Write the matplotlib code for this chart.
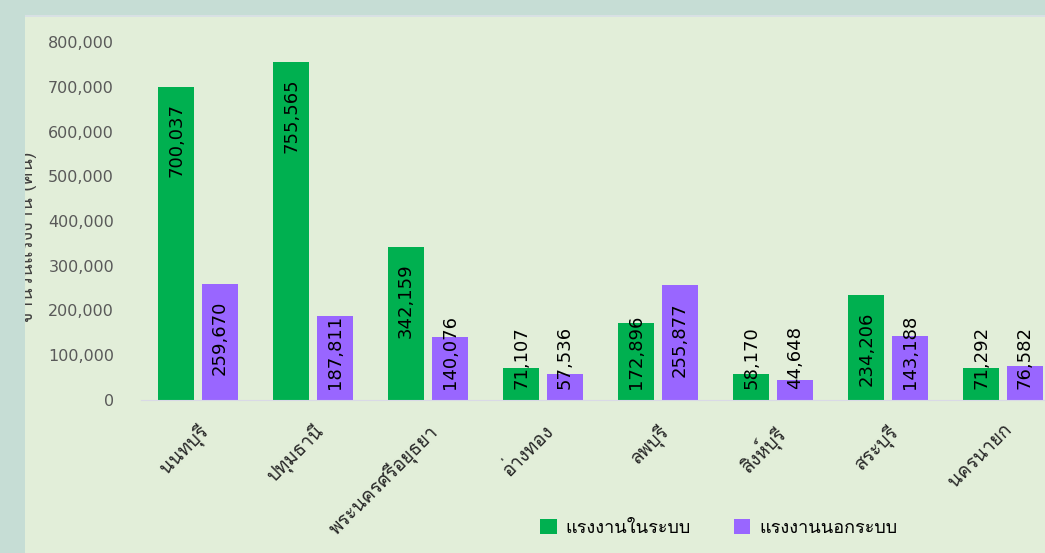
import matplotlib
matplotlib.use("Agg")
import matplotlib.pyplot as plt
from matplotlib import font_manager
from matplotlib.ft2font import FT2Font
from matplotlib.patches import Rectangle
import numpy as np

# ---------------- data ----------------
provinces = ["นนทบุรี", "ปทุมธานี", "พระนครศรีอยุธยา", "อ่างทอง",
             "ลพบุรี", "สิงห์บุรี", "สระบุรี", "นครนายก"]
formal = [700037, 755565, 342159, 71107, 172896, 58170, 234206, 71292]
informal = [259670, 187811, 140076, 57536, 255877, 44648, 143188, 76582]
series_names = ["แรงงานในระบบ", "แรงงานนอกระบบ"]
y_ticks = [0, 100000, 200000, 300000, 400000, 500000, 600000, 700000, 800000]
y_title = "จำนวนแรงงาน (คน)"

GREEN = "#00b050"
PURPLE = "#9966ff"
OUTER = "#c6ddd5"
PANEL = "#e2eed9"


# find a font that actually has Thai glyphs
def thai_font():
    for f in font_manager.fontManager.ttflist:
        try:
            if 0x0E01 in FT2Font(f.fname).get_charmap():
                return f.name
        except Exception:
            pass
    return "DejaVu Sans"


thai = thai_font()
plt.rcParams['font.family'] = [thai, "DejaVu Sans"]

fig = plt.figure(figsize=(10.45, 5.53), dpi=100)
fig.patch.set_facecolor(OUTER)
W, H = 1045, 553

# inner light-green panel
fig.patches.append(Rectangle((25 / W, 0), 1, 1 - 16 / H, transform=fig.transFigure,
                             facecolor=PANEL, edgecolor="none", zorder=-10))
fig.patches.append(Rectangle((25 / W, 1 - 17 / H), 1, 2 / H, transform=fig.transFigure,
                             facecolor="#d8e0e4", edgecolor="none", zorder=-9))

ax = fig.add_axes([140.5 / W, 153 / H, 920 / W, 358 / H])
ax.set_facecolor("none")

x = np.arange(len(provinces))
bw = 0.31
off = 0.19
b1 = ax.bar(x - off, formal, bw, color=GREEN, label=series_names[0])
b2 = ax.bar(x + off, informal, bw, color=PURPLE, label=series_names[1])

ax.set_xlim(-0.5, len(provinces) - 0.5)
ax.set_ylim(0, 800000)
ax.set_yticks(y_ticks)
ax.set_yticklabels([f"{v:,}" for v in y_ticks], color="#595959", fontsize=11.5,
                   family="DejaVu Sans")
ax.set_xticks(x)
ax.set_xticklabels(provinces, rotation=45, ha="right", rotation_mode="anchor",
                   fontsize=13.5, color="#262626")
ax.tick_params(axis="both", length=0)
ax.tick_params(axis="y", pad=19)
ax.tick_params(axis="x", pad=15)
for s in ["top", "right", "left"]:
    ax.spines[s].set_visible(False)
ax.spines["bottom"].set_color("#d9d9e6")
ax.set_ylabel(y_title, fontsize=14, color="#404040")
ax.yaxis.set_label_coords(-0.113, 0.455)

# value labels: inside end when they fit, otherwise pushed up from the base
fig.canvas.draw()
r = fig.canvas.get_renderer()
for bars, vals in ((b1, formal), (b2, informal)):
    for rect, v in zip(bars, vals):
        cx = rect.get_x() + rect.get_width() / 2
        t = ax.annotate(f"{v:,}", (cx, v), xytext=(0, -12), textcoords="offset points",
                        rotation=90, ha="center", va="top", fontsize=13,
                        color="black", family="DejaVu Sans")
        bb = t.get_window_extent(r)
        base = ax.transData.transform((0, 0))[1]
        if bb.y0 - base < 12:
            t.remove()
            ax.annotate(f"{v:,}", (cx, 0), xytext=(0, 8), textcoords="offset points",
                        rotation=90, ha="center", va="bottom", fontsize=13,
                        color="black", family="DejaVu Sans")

fig.legend(loc="lower left", bbox_to_anchor=(524 / W, 0), ncol=2, frameon=False,
           fontsize=13, handlelength=0.9, handleheight=0.9, columnspacing=2.4,
           handletextpad=0.5)

# cover the outer strip so the y title is clipped like the screenshot
fig.patches.append(Rectangle((0, 0), 25 / W, 1, transform=fig.transFigure,
                             facecolor=OUTER, edgecolor="none", zorder=10))

fig.savefig("out.png", dpi=100, facecolor=fig.get_facecolor())
